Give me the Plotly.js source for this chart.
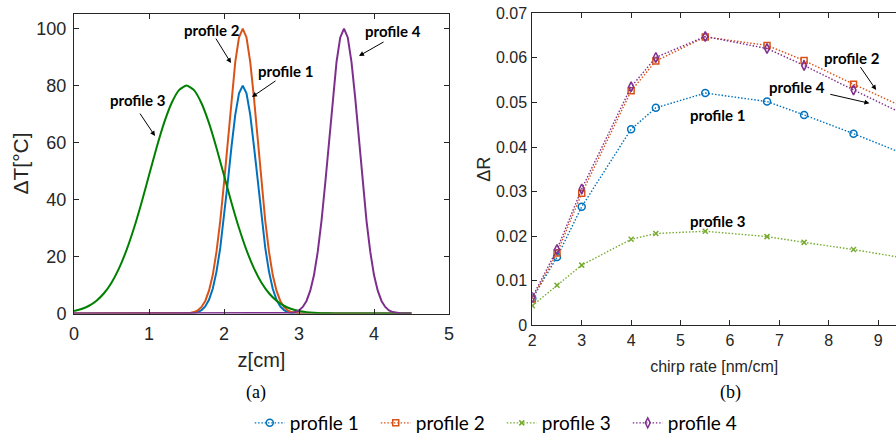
<!DOCTYPE html>
<html>
<head>
<meta charset="utf-8">
<script src="https://cdn.plot.ly/plotly-3.0.1.min.js"></script>
<style>
  html, body { margin: 0; padding: 0; background: #ffffff; }
  #chart { width: 896px; height: 435px; }
</style>
</head>
<body>
<div id="chart"></div>
<script>
// ---------- (a) temperature profiles: z [cm] and ΔT [°C] ----------
const p1z = [0, 1.55, 1.6, 1.65, 1.7, 1.75, 1.8, 1.85, 1.9, 1.95, 2.0, 2.05, 2.1, 2.15, 2.2, 2.25,
             2.3, 2.35, 2.4, 2.45, 2.5, 2.55, 2.6, 2.65, 2.7, 2.75, 2.8, 2.85, 2.9, 2.95, 4.5];
const p1T = [0, 0.1, 0.2, 0.5, 1.2, 2.5, 4.8, 8.7, 14.7, 23.0, 33.6, 46.0, 58.6, 69.7, 77.3, 80,
             77.3, 69.7, 58.6, 46.0, 33.6, 23.0, 14.7, 8.7, 4.8, 2.5, 1.2, 0.5, 0.2, 0.1, 0];

const p2z = [0, 1.5, 1.55, 1.6, 1.65, 1.7, 1.75, 1.8, 1.85, 1.9, 1.95, 2.0, 2.05, 2.1, 2.15, 2.2, 2.25,
             2.3, 2.35, 2.4, 2.45, 2.5, 2.55, 2.6, 2.65, 2.7, 2.75, 2.8, 2.85, 2.9, 2.95, 3.0, 4.5];
const p2T = [0, 0.1, 0.2, 0.5, 1.1, 2.3, 4.4, 8.0, 13.5, 21.7, 32.5, 45.8, 60.7, 75.5, 88.2, 96.9, 100,
             96.9, 88.2, 75.5, 60.7, 45.8, 32.5, 21.7, 13.5, 8.0, 4.4, 2.3, 1.1, 0.5, 0.2, 0.1, 0];

const p3z = [0, 0.1, 0.2, 0.3, 0.4, 0.5, 0.6, 0.7, 0.8, 0.9, 1.0, 1.1, 1.2, 1.3, 1.4, 1.5,
             1.6, 1.7, 1.8, 1.9, 2.0, 2.1, 2.2, 2.3, 2.4, 2.5, 2.6, 2.7, 2.8, 2.9, 3.0,
             3.1, 3.2, 3.3, 3.4, 3.5, 4.5];
const p3T = [0.89, 1.59, 2.72, 4.49, 7.11, 10.83, 15.83, 22.24, 30.0, 38.9, 48.5, 58.1, 66.8, 73.8, 78.4, 80,
             78.4, 73.8, 66.8, 58.1, 48.5, 38.9, 30.0, 22.24, 15.83, 10.83, 7.11, 4.49, 2.72, 1.59, 0.89,
             0.48, 0.25, 0.12, 0.06, 0.03, 0];

const p4z = [0, 2.85, 2.9, 2.95, 3.0, 3.05, 3.1, 3.15, 3.2, 3.25, 3.3, 3.35, 3.4, 3.45, 3.5, 3.55, 3.6,
             3.65, 3.7, 3.75, 3.8, 3.85, 3.9, 3.95, 4.0, 4.05, 4.1, 4.15, 4.2, 4.25, 4.3, 4.35, 4.5];
const p4T = [0, 0.1, 0.2, 0.5, 1.1, 2.3, 4.4, 8.0, 13.5, 21.7, 32.5, 45.8, 60.7, 75.5, 88.2, 96.9, 100,
             96.9, 88.2, 75.5, 60.7, 45.8, 32.5, 21.7, 13.5, 8.0, 4.4, 2.3, 1.1, 0.5, 0.2, 0.1, 0];

// ---------- (b) ΔR versus chirp rate [nm/cm] ----------
const chirp = [2, 2.5, 3, 4, 4.5, 5.5, 6.75, 7.5, 8.5, 10];
const dR1 = [0.0060, 0.0153, 0.0266, 0.0440, 0.0488, 0.0521, 0.0502, 0.0472, 0.0430, 0.0363];
const dR2 = [0.0059, 0.0162, 0.0296, 0.0526, 0.0593, 0.0647, 0.0628, 0.0594, 0.0541, 0.0465];
const dR3 = [0.0044, 0.0090, 0.0135, 0.0193, 0.0206, 0.0211, 0.0199, 0.0186, 0.0170, 0.0142];
const dR4 = [0.0063, 0.0170, 0.0306, 0.0535, 0.0601, 0.0648, 0.0621, 0.0583, 0.0528, 0.0448];

const names = ['profile 1', 'profile 2', 'profile 3', 'profile 4'];

const cBlue = '#0072BD', cOrange = '#D95319', cGreenA = '#008000', cGreenB = '#77AC30', cPurple = '#7E2F8E';
const axCol = '#262626';
const dotted = '1.5px,1.8px';

const traces = [
  {x: p1z, y: p1T, type: 'scatter', mode: 'lines', line: {color: cBlue, width: 2}, showlegend: false, xaxis: 'x', yaxis: 'y', name: names[0]},
  {x: p2z, y: p2T, type: 'scatter', mode: 'lines', line: {color: cOrange, width: 2}, showlegend: false, xaxis: 'x', yaxis: 'y', name: names[1]},
  {x: p3z, y: p3T, type: 'scatter', mode: 'lines', line: {color: cGreenA, width: 2, shape: 'spline', smoothing: 0.6}, showlegend: false, xaxis: 'x', yaxis: 'y', name: names[2]},
  {x: p4z, y: p4T, type: 'scatter', mode: 'lines', line: {color: cPurple, width: 2}, showlegend: false, xaxis: 'x', yaxis: 'y', name: names[3]},

  {x: chirp, y: dR1, type: 'scatter', mode: 'lines+markers', name: names[0], xaxis: 'x2', yaxis: 'y2',
   line: {color: cBlue, width: 1.4, dash: dotted}, marker: {symbol: 'circle-open', size: 7, color: cBlue, line: {width: 1.5}}},
  {x: chirp, y: dR2, type: 'scatter', mode: 'lines+markers', name: names[1], xaxis: 'x2', yaxis: 'y2',
   line: {color: cOrange, width: 1.4, dash: dotted}, marker: {symbol: 'square-open', size: 6, color: cOrange, line: {width: 1.5}}},
  {x: chirp, y: dR3, type: 'scatter', mode: 'lines+markers', name: names[2], xaxis: 'x2', yaxis: 'y2',
   line: {color: cGreenB, width: 1.4, dash: dotted}, marker: {symbol: 'x-thin-open', size: 5, color: cGreenB, line: {width: 1.5, color: cGreenB}}},
  {x: chirp, y: dR4, type: 'scatter', mode: 'lines+markers', name: names[3], xaxis: 'x2', yaxis: 'y2',
   line: {color: cPurple, width: 1.4, dash: dotted}, marker: {symbol: 'diamond-tall-open', size: 7, color: cPurple, line: {width: 1.5}}}
];

const annFont = {family: 'Lato, "Noto Sans", sans-serif', size: 15, color: '#000000', weight: 'bold'};
function lbl(text, x, y, xr, yr) {
  return {text: '<b>' + text + '</b>', x: x, y: y, xref: xr, yref: yr, showarrow: false, font: annFont, xanchor: 'center', yanchor: 'middle'};
}
function arr(x, y, ax, ay, xr, yr) {
  return {text: '', x: x, y: y, ax: ax, ay: ay, xref: xr, yref: yr, axref: xr, ayref: yr,
          showarrow: true, arrowhead: 2, arrowsize: 1, arrowwidth: 1, arrowcolor: '#000000'};
}

const annotations = [
  lbl('profile 2', 1.84, 99.5, 'x', 'y'),
  lbl('profile 1', 2.824, 85.1, 'x', 'y'),
  lbl('profile 3', 0.847, 74.9, 'x', 'y'),
  lbl('profile 4', 4.253, 99.2, 'x', 'y'),
  arr(2.093, 87.9, 1.88, 97.0, 'x', 'y'),
  arr(2.373, 76.0, 2.707, 82.0, 'x', 'y'),
  arr(1.08, 62.3, 0.867, 70.7, 'x', 'y'),
  arr(3.8, 90.4, 4.147, 95.6, 'x', 'y'),

  lbl('profile 2', 8.475, 0.0599, 'x2', 'y2'),
  lbl('profile 4', 7.351, 0.05353, 'x2', 'y2'),
  lbl('profile 1', 5.745, 0.04718, 'x2', 'y2'),
  lbl('profile 3', 5.752, 0.02347, 'x2', 'y2'),
  arr(8.958, 0.05279, 8.62, 0.05825, 'x2', 'y2'),
  arr(8.822, 0.04981, 8.0, 0.0519, 'x2', 'y2'),

  {text: '(a)', x: 256 / 896, y: 1 - 392 / 435, xref: 'paper', yref: 'paper', showarrow: false,
   font: {family: '"Liberation Serif", "Times New Roman", serif', size: 18, color: '#000000'}, xanchor: 'center', yanchor: 'middle'},
  {text: '(b)', x: 730 / 896, y: 1 - 392 / 435, xref: 'paper', yref: 'paper', showarrow: false,
   font: {family: '"Liberation Serif", "Times New Roman", serif', size: 18, color: '#000000'}, xanchor: 'center', yanchor: 'middle'}
];

const tickFontA = {family: '"Liberation Sans", Arial, sans-serif', size: 18, color: axCol};
const tickFontB = {family: '"Liberation Sans", Arial, sans-serif', size: 16, color: axCol};

const layout = {
  width: 896, height: 435,
  margin: {l: 0, r: 0, t: 0, b: 0, autoexpand: false},
  paper_bgcolor: '#ffffff', plot_bgcolor: '#ffffff',
  showlegend: true,
  legend: {orientation: 'h', x: 0.56, xanchor: 'center', y: 1 - 423 / 435, yanchor: 'middle',
           font: {family: 'Lato, "Noto Sans", sans-serif', size: 19, color: '#000000'},
           entrywidth: 81, bgcolor: 'rgba(0,0,0,0)'},
  xaxis: {domain: [74 / 896, 449 / 896], range: [0, 5], dtick: 1, tick0: 0,
          ticks: 'inside', ticklen: 5, tickcolor: axCol, showline: true, linecolor: axCol, linewidth: 1, mirror: 'ticks',
          showgrid: false, zeroline: false, tickfont: tickFontA, ticklabelstandoff: 4,
          title: {text: 'z[cm]', font: {family: '"Liberation Sans", Arial, sans-serif', size: 20, color: axCol}, standoff: 9}},
  yaxis: {domain: [1 - 313.5 / 435, 1 - 13.5 / 435], range: [0, 105.3], dtick: 20, tick0: 0,
          ticks: 'inside', ticklen: 5, tickcolor: axCol, showline: true, linecolor: axCol, linewidth: 1, mirror: 'ticks',
          showgrid: false, zeroline: false, tickfont: tickFontA, ticklabelstandoff: 3,
          title: {text: 'ΔT[°C]', font: {family: '"Liberation Sans", Arial, sans-serif', size: 21, color: axCol}, standoff: 2}},
  xaxis2: {domain: [532.3 / 896, 1], range: [2, 9.36], dtick: 1, tick0: 0, anchor: 'y2',
          ticks: 'inside', ticklen: 5, tickcolor: axCol, showline: true, linecolor: axCol, linewidth: 1, mirror: 'ticks',
          showgrid: false, zeroline: false, tickfont: tickFontB, ticklabelstandoff: 0,
          title: {text: 'chirp rate [nm/cm]', font: {family: '"Liberation Sans", Arial, sans-serif', size: 16, color: axCol}, standoff: 13}},
  yaxis2: {domain: [1 - 325.3 / 435, 1 - 13.3 / 435], range: [0, 0.07], dtick: 0.01, tick0: 0, anchor: 'x2',
          ticks: 'inside', ticklen: 5, tickcolor: axCol, showline: true, linecolor: axCol, linewidth: 1, mirror: false,
          showgrid: false, zeroline: false, tickfont: tickFontB, ticklabelstandoff: 1,
          title: {text: 'ΔR', font: {family: '"Liberation Sans", Arial, sans-serif', size: 18, color: axCol}, standoff: 0}},
  annotations: annotations
};

Plotly.newPlot('chart', traces, layout, {staticPlot: true, displayModeBar: false});
</script>
</body>
</html>
